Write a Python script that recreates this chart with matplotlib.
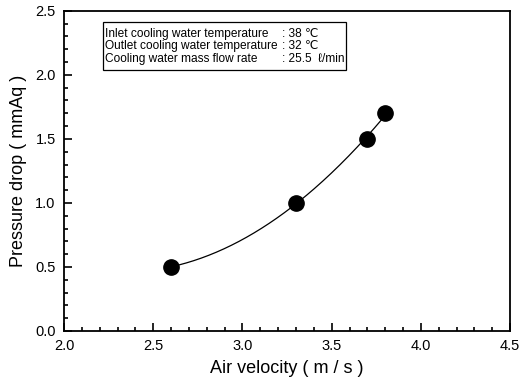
import numpy as np
import matplotlib
matplotlib.use('Agg')
import matplotlib.pyplot as plt
from matplotlib.ticker import MultipleLocator
from matplotlib.patches import Rectangle

plt.rcParams['font.family'] = ['Liberation Sans', 'DejaVu Sans']

air_velocity = [2.6, 3.3, 3.7, 3.8]
pressure_drop = [0.5, 1.0, 1.5, 1.7]

info_labels = ['Inlet cooling water temperature',
               'Outlet cooling water temperature',
               'Cooling water mass flow rate']
info_values = [': 38 \u2103', ': 32 \u2103', ': 25.5  \u2113/min']

fig = plt.figure(figsize=(5.21, 3.88), dpi=100)
ax = fig.add_axes([0.123, 0.147, 0.856, 0.825])

# quadratic trend through the measured points
coef = np.polyfit(air_velocity, pressure_drop, 2)
xs = np.linspace(min(air_velocity), max(air_velocity), 200)
ax.plot(xs, np.polyval(coef, xs), color='black', linewidth=0.9)
ax.plot(air_velocity, pressure_drop, 'o', color='black', markersize=11)

ax.set_xlim(2.0, 4.5)
ax.set_ylim(0.0, 2.5)
ax.xaxis.set_major_locator(MultipleLocator(0.5))
ax.xaxis.set_minor_locator(MultipleLocator(0.1))
ax.yaxis.set_major_locator(MultipleLocator(0.5))
ax.yaxis.set_minor_locator(MultipleLocator(0.1))
ax.xaxis.set_major_formatter(matplotlib.ticker.FormatStrFormatter('%.1f'))
ax.yaxis.set_major_formatter(matplotlib.ticker.FormatStrFormatter('%.1f'))
ax.tick_params(which='both', direction='in', top=False, right=False,
               labelsize=10.5, width=1.2)
ax.tick_params(which='major', length=6, pad=6)
ax.tick_params(which='minor', length=3)
for sp in ax.spines.values():
    sp.set_linewidth(1.3)

ax.set_xlabel('Air velocity ( m / s )', fontsize=13, labelpad=5)
ax.set_ylabel('Pressure drop ( mmAq )', fontsize=13, labelpad=6)

# info box
ax.add_patch(Rectangle((0.087, 0.816), 0.545, 0.150, transform=ax.transAxes,
                       fill=False, edgecolor='black', linewidth=0.9))
rows_y = [0.929, 0.889, 0.849]
for lab, val, yy in zip(info_labels, info_values, rows_y):
    ax.text(0.091, yy, lab, transform=ax.transAxes, fontsize=8.6,
            va='center', ha='left')
    ax.text(0.489, yy, val, transform=ax.transAxes, fontsize=8.6,
            va='center', ha='left')

fig.savefig('out.png', dpi=100)
